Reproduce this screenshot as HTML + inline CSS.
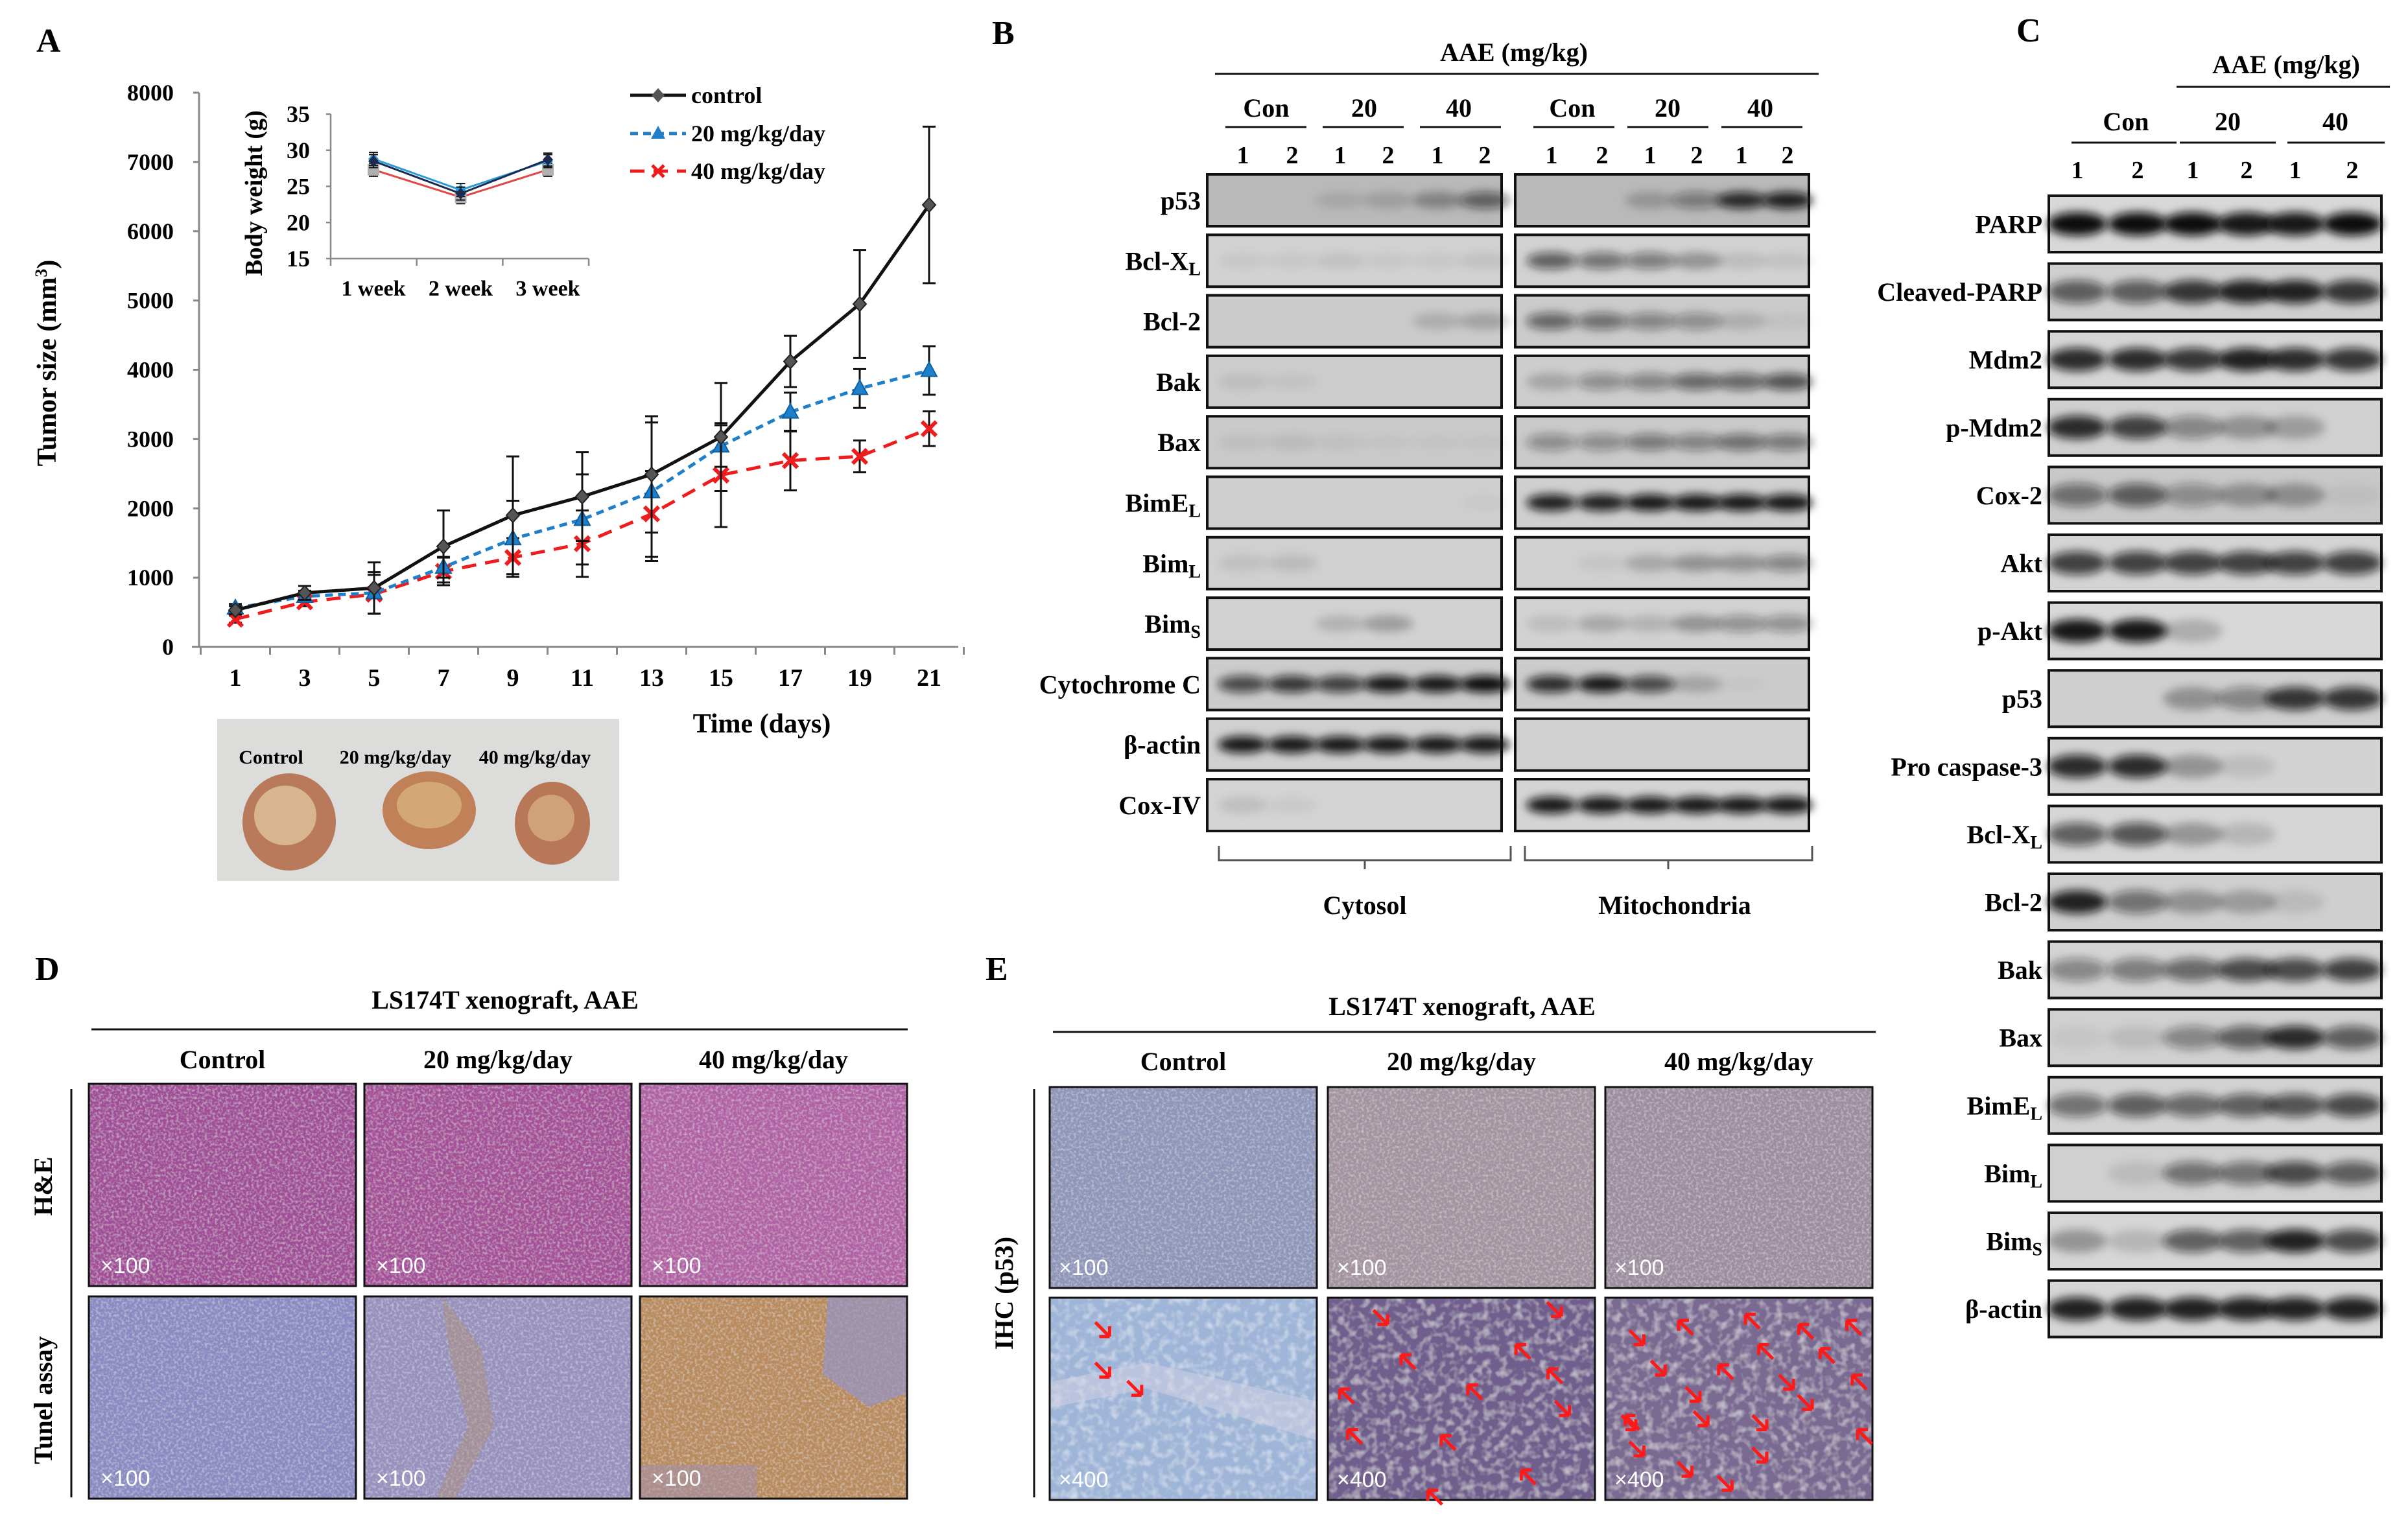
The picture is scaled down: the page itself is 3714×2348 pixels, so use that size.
<!DOCTYPE html>
<html><head><meta charset="utf-8">
<style>
html,body{margin:0;padding:0;background:#fff;}
svg{display:block;font-family:"Liberation Serif",serif;font-weight:bold;}
</style></head>
<body>
<svg id="fig" xmlns="http://www.w3.org/2000/svg" width="3714" height="2348" viewBox="0 0 3714 2348">
<defs>
  <filter id="blur" x="-50%" y="-80%" width="200%" height="260%"><feGaussianBlur stdDeviation="7"/></filter>
  <filter id="tex" x="0" y="0" width="100%" height="100%">
    <feTurbulence type="fractalNoise" baseFrequency="0.25" numOctaves="2" seed="3" result="n"/>
    <feColorMatrix in="n" type="matrix" values="0 0 0 0 1  0 0 0 0 1  0 0 0 0 1  0 0 0 0.8 -0.35" result="w"/>
    <feComposite in="w" in2="SourceGraphic" operator="in" result="wm"/>
    <feMerge><feMergeNode in="SourceGraphic"/><feMergeNode in="wm"/></feMerge>
  </filter>
  <filter id="tex2" x="0" y="0" width="100%" height="100%">
    <feTurbulence type="fractalNoise" baseFrequency="0.08" numOctaves="2" seed="7" result="n"/>
    <feColorMatrix in="n" type="matrix" values="0 0 0 0 1  0 0 0 0 1  0 0 0 0 1  0 0 0 1.0 -0.45" result="w"/>
    <feComposite in="w" in2="SourceGraphic" operator="in" result="wm"/>
    <feMerge><feMergeNode in="SourceGraphic"/><feMergeNode in="wm"/></feMerge>
  </filter>
</defs>

<text x="56" y="80" font-size="52">A</text>
<text x="1530" y="68" font-size="52">B</text>
<text x="3110" y="64" font-size="52">C</text>
<text x="54" y="1512" font-size="52">D</text>
<text x="1520" y="1512" font-size="52">E</text>

<g id="chartA"></g>
<g id="inset"></g>

<g>
  <rect x="335" y="1109" width="620" height="250" fill="#dcdcda"/>
  <text x="418" y="1178" font-size="30" text-anchor="middle">Control</text>
  <text x="610" y="1178" font-size="30" text-anchor="middle">20 mg/kg/day</text>
  <text x="825" y="1178" font-size="30" text-anchor="middle">40 mg/kg/day</text>
  <ellipse cx="446" cy="1268" rx="72" ry="75" fill="#b87a5a"/>
  <ellipse cx="440" cy="1258" rx="48" ry="46" fill="#e2c9a0" opacity="0.75"/>
  <ellipse cx="662" cy="1250" rx="72" ry="60" fill="#c08058"/>
  <ellipse cx="662" cy="1242" rx="50" ry="36" fill="#dcb886" opacity="0.7"/>
  <ellipse cx="852" cy="1270" rx="58" ry="64" fill="#b87858"/>
  <ellipse cx="850" cy="1262" rx="36" ry="36" fill="#d9b484" opacity="0.7"/>
</g>

<g id="panelB"></g>
<g id="panelC"></g>
<g id="panelD"></g>
<g id="panelE"></g>
</svg>

<script>
const days = [1,3,5,7,9,11,13,15,17,19,21];
const yTicks = [0,1000,2000,3000,4000,5000,6000,7000,8000];
const controlVals = [530,780,850,1450,1900,2170,2490,3030,4120,4950,6380];
const controlErr = [60,100,370,520,850,640,840,780,370,780,1130];
const dose20Vals = [560,730,780,1150,1560,1840,2240,2900,3390,3730,3990];
const dose20Err = [60,80,300,150,550,650,1000,300,280,280,350];
const dose40Vals = [400,650,760,1090,1290,1490,1920,2480,2690,2750,3150];
const dose40Err = [50,60,280,200,280,480,620,750,430,230,250];
const weeks = ['1 week','2 week','3 week'];
const bwTicks = [15,20,25,30,35];
const bwControl = [28.5,24.0,28.7];
const bw20 = [28.8,24.5,28.5];
const bw40 = [27.3,23.5,27.3];

const NS = 'http://www.w3.org/2000/svg';
function mk(parent, tag, attrs, text){
  const e = document.createElementNS(NS, tag);
  for (const k in attrs) e.setAttribute(k, attrs[k]);
  if (text !== undefined) e.textContent = text;
  parent.appendChild(e);
  return e;
}

const X0 = 363, DX = 53.5, Y0 = 998, YS = (998-143)/8000;
const xA = d => X0 + (d-1)*DX;
const yA = v => Y0 - v*YS;

const gA = document.getElementById('chartA');
let ax = mk(gA,'line',{x1:307,y1:143,x2:307,y2:Y0,stroke:'#888','stroke-width':3});


ax = mk(gA,'line',{x1:296,y1:Y0,x2:1478,y2:Y0,stroke:'#888','stroke-width':3});


yTicks.forEach(v=>{
  const t = mk(gA,'line',{x1:298,y1:yA(v),x2:307,y2:yA(v),stroke:'#888','stroke-width':3});
  
  
  const l = mk(gA,'text',{x:268,y:yA(v)+12,'font-size':36,'text-anchor':'end'}, String(v));
  
  
});
for (let i=0;i<=days.length;i++){
  const t = mk(gA,'line',{x1:xA(0)+i*DX*2,y1:Y0,x2:xA(0)+i*DX*2,y2:Y0+12,stroke:'#888','stroke-width':3});
  
  
}
days.forEach(d=>{
  const l = mk(gA,'text',{x:xA(d),y:1058,'font-size':38,'text-anchor':'middle'}, String(d));
  
  
});
let tt = mk(gA,'text',{x:1175,y:1130,'font-size':42,'text-anchor':'middle'},'Time (days)');


tt = mk(gA,'text',{x:0,y:0,'font-size':42,'text-anchor':'middle',transform:'translate(86,560) rotate(-90)'});


tt.innerHTML = 'Tumor size (mm<tspan baseline-shift="super" font-size="26">3</tspan>)';

function series(vals, errs, color, dash, marker, name){
  const g = mk(gA,'g',{});
  
  
  vals.forEach((v,i)=>{
    const x = xA(days[i]);
    const e = mk(g,'path',{d:`M${x},${yA(v-errs[i])}V${yA(v+errs[i])}M${x-10},${yA(v-errs[i])}h20M${x-10},${yA(v+errs[i])}h20`,stroke:'#111','stroke-width':3,fill:'none'});
    
    
  });
  const pts = vals.map((v,i)=>xA(days[i])+','+yA(v)).join(' ');
  const ln = mk(g,'polyline',{points:pts,fill:'none',stroke:color,'stroke-width':5,'stroke-dasharray':dash});
  
  
  vals.forEach((v,i)=>{
    const x = xA(days[i]), y = yA(v);
    let m;
    if (marker==='diamond') m = mk(g,'path',{d:`M${x},${y-11}L${x+10},${y}L${x},${y+11}L${x-10},${y}Z`,fill:'#555',stroke:'#222','stroke-width':2});
    else if (marker==='tri') m = mk(g,'path',{d:`M${x},${y-13}L${x+12},${y+9}L${x-12},${y+9}Z`,fill:'#1f7fc8',stroke:'#1060a0','stroke-width':2});
    else m = mk(g,'path',{d:`M${x-11},${y-11}L${x+11},${y+11}M${x+11},${y-11}L${x-11},${y+11}`,stroke:'#ee1c1c','stroke-width':6});
    
    
  });
}
series(dose40Vals, dose40Err, '#ee1c1c', '22 14', 'x', 'series-40mg');
series(dose20Vals, dose20Err, '#1f7fc8', '12 8', 'tri', 'series-20mg');
series(controlVals, controlErr, '#111', 'none', 'diamond', 'series-control');

const legendItems = [['control','#111','none','diamond',147],['20 mg/kg/day','#1f7fc8','12 8','tri',206],['40 mg/kg/day','#ee1c1c','22 14','x',264]];
legendItems.forEach(it=>{
  const g = mk(gA,'g',{});
  
  
  const y = it[4], x = 1015;
  mk(g,'line',{x1:972,y1:y,x2:1058,y2:y,stroke:it[1],'stroke-width':5,'stroke-dasharray':it[2]});
  if (it[3]==='diamond') mk(g,'path',{d:`M${x},${y-11}L${x+10},${y}L${x},${y+11}L${x-10},${y}Z`,fill:'#555'});
  else if (it[3]==='tri') mk(g,'path',{d:`M${x},${y-12}L${x+11},${y+8}L${x-11},${y+8}Z`,fill:'#1f7fc8'});
  else mk(g,'path',{d:`M${x-9},${y-9}L${x+9},${y+9}M${x+9},${y-9}L${x-9},${y+9}`,stroke:'#ee1c1c','stroke-width':5});
  mk(g,'text',{x:1066,y:y+12,'font-size':36}, it[0]);
});

const gI = document.getElementById('inset');
const ix = i => 576 + i*134.5;
const iy = v => 399 - (v-15)*(223/20);
mk(gI,'line',{x1:510,y1:iy(35),x2:510,y2:399,stroke:'#888','stroke-width':2.5});
mk(gI,'line',{x1:510,y1:399,x2:908,y2:399,stroke:'#888','stroke-width':2.5});
bwTicks.forEach(v=>{
  mk(gI,'line',{x1:503,y1:iy(v),x2:510,y2:iy(v),stroke:'#888','stroke-width':2.5});
  const l = mk(gI,'text',{x:478,y:iy(v)+12,'font-size':36,'text-anchor':'end'}, String(v));
  
  
});
for (let i=0;i<4;i++) mk(gI,'line',{x1:510+i*132.7,y1:399,x2:510+i*132.7,y2:410,stroke:'#888','stroke-width':2.5});
weeks.forEach((w,i)=>{
  const l = mk(gI,'text',{x:ix(i),y:456,'font-size':34,'text-anchor':'middle'}, w);
  
  
});
tt = mk(gI,'text',{x:0,y:0,'font-size':38,'text-anchor':'middle',transform:'translate(404,298) rotate(-90)'},'Body weight (g)');


function iseries(vals, color, mcolor, shape, name){
  const g = mk(gI,'g',{});
  
  
  mk(g,'polyline',{points:vals.map((v,i)=>ix(i)+','+iy(v)).join(' '),fill:'none',stroke:color,'stroke-width':3});
  vals.forEach((v,i)=>{
    mk(g,'path',{d:`M${ix(i)},${iy(v)-10}V${iy(v)+10}M${ix(i)-7},${iy(v)-10}h14M${ix(i)-7},${iy(v)+10}h14`,stroke:'#111','stroke-width':2});
    let m;
    if (shape==='sq') m = mk(g,'rect',{x:ix(i)-9,y:iy(v)-9,width:18,height:18,fill:mcolor});
    else m = mk(g,'path',{d:`M${ix(i)},${iy(v)-9}L${ix(i)+8},${iy(v)}L${ix(i)},${iy(v)+9}L${ix(i)-8},${iy(v)}Z`,fill:mcolor});
    
    
  });
}
iseries(bw40, '#e04848', '#b0b0b0', 'sq', 'inset-40mg');
iseries(bw20, '#2b9ad8', '#2b9ad8', 'd', 'inset-20mg');
iseries(bwControl, '#1a2a50', '#1a2a50', 'd', 'inset-control');

function band(g, cx, cy, w, h, a){
  if (a<=0.02) return;
  mk(g,'ellipse',{cx:cx,cy:cy,rx:w/2,ry:h/2,fill:'#111','fill-opacity':a,filter:'url(#blur)'});
}
function blotBox(g, x, y, w, h, bg){
  return mk(g,'rect',{x:x,y:y,width:w,height:h,fill:bg,stroke:'#111','stroke-width':4});
}
function label(g, x, y, main, sub, size){
  const t = mk(g,'text',{x:x,y:y,'font-size':size,'text-anchor':'end'});
  t.textContent = main;
  if (sub){ const s = mk(t,'tspan',{'font-size':size*0.7,dy:8}); s.textContent = sub; }
  return t;
}

const gB = document.getElementById('panelB');
const bRows = [['p53',''],['Bcl-X','L'],['Bcl-2',''],['Bak',''],['Bax',''],['BimE','L'],['Bim','L'],['Bim','S'],['Cytochrome C',''],['β-actin',''],['Cox-IV','']];
const bCyto = [[0,0,.1,.15,.3,.55],[.05,.05,.08,.05,.05,.08],[0,0,0,0,.15,.2],[.08,.05,0,0,0,0],[.06,.08,.05,.03,.03,.03],[0,0,0,0,0,.03],[.08,.1,0,0,0,0],[0,0,.15,.25,0,0],[.7,.8,.75,.95,.95,1],[.95,.95,.95,.95,.95,.95],[.1,.05,0,0,0,0]];
const bMito = [[0,0,.2,.4,.85,.9],[.6,.5,.45,.3,.1,.08],[.55,.5,.4,.35,.15,.05],[.2,.35,.4,.55,.55,.65],[.35,.35,.45,.4,.5,.45],[.9,.9,.95,.95,.95,.95],[0,.05,.2,.3,.3,.4],[.1,.2,.15,.3,.35,.35],[.85,.95,.7,.2,.03,0],[0,.02,0,0,0,0],[.95,.95,.95,.95,.95,.95]];
const bBg = ['#b9b9b9','#d2d2d2','#cbcbcb','#cdcdcd','#cacaca','#cfcfcf','#d0d0d0','#d2d2d2','#cccccc','#d0d0d0','#d4d4d4'];
const laneC = [1917,1993,2067,2141,2217,2290];
const laneM = [2393,2471,2545,2617,2686,2757];
bRows.forEach((r,i)=>{
  const y = 269 + i*93.3, h = 80;
  const g = mk(gB,'g',{});
  
  
  blotBox(g,1862,y,454,h,bBg[i]);
  blotBox(g,2337,y,453,h,bBg[i]);
  laneC.forEach((x,j)=>band(g,x,y+h/2,78,26,bCyto[i][j]));
  laneM.forEach((x,j)=>band(g,x,y+h/2,78,26,bMito[i][j]));
  label(g,1852,y+h/2+14,r[0],r[1],40);
});
mk(gB,'text',{x:2335,y:94,'font-size':40,'text-anchor':'middle'},'AAE (mg/kg)');
mk(gB,'line',{x1:1874,y1:114,x2:2805,y2:114,stroke:'#111','stroke-width':3});
[['Con',1953,1890,2015],['20',2104,2040,2165],['40',2250,2190,2315],['Con',2425,2365,2490],['20',2572,2510,2635],['40',2715,2655,2780]].forEach(h=>{
  mk(gB,'text',{x:h[1],y:180,'font-size':40,'text-anchor':'middle'},h[0]);
  mk(gB,'line',{x1:h[2],y1:196,x2:h[3],y2:196,stroke:'#111','stroke-width':3});
});
laneC.concat(laneM).forEach((x,j)=>{
  mk(gB,'text',{x:x,y:252,'font-size':38,'text-anchor':'middle'}, j%2===0?'1':'2');
});
mk(gB,'path',{d:'M1880,1305v22h450v-22M2105,1327v14',fill:'none',stroke:'#555','stroke-width':3});
mk(gB,'path',{d:'M2352,1305v22h443v-22M2573,1327v14',fill:'none',stroke:'#555','stroke-width':3});
mk(gB,'text',{x:2105,y:1410,'font-size':40,'text-anchor':'middle'},'Cytosol');
mk(gB,'text',{x:2583,y:1410,'font-size':40,'text-anchor':'middle'},'Mitochondria');

const gC = document.getElementById('panelC');
const cRows = [['PARP',''],['Cleaved-PARP',''],['Mdm2',''],['p-Mdm2',''],['Cox-2',''],['Akt',''],['p-Akt',''],['p53',''],['Pro caspase-3',''],['Bcl-X','L'],['Bcl-2',''],['Bak',''],['Bax',''],['BimE','L'],['Bim','L'],['Bim','S'],['β-actin','']];
const cVals = [[1,1,1,.95,.95,1],[.6,.6,.8,.9,.9,.8],[.85,.85,.8,.9,.85,.8],[.85,.75,.4,.3,.25,0],[.5,.6,.35,.3,.3,.05],[.75,.75,.75,.75,.75,.75],[.95,.95,.2,0,0,0],[0,0,.3,.4,.8,.8],[.85,.85,.3,.1,0,0],[.6,.65,.3,.15,0,0],[.9,.5,.3,.25,.1,0],[.4,.45,.55,.7,.7,.75],[.05,.1,.4,.6,.85,.6],[.5,.6,.55,.6,.65,.7],[0,.1,.5,.5,.7,.6],[.3,.15,.6,.6,.9,.7],[.9,.9,.9,.9,.9,.9]];
const cBg = ['#d8d8d8','#cfcfcf','#d6d6d6','#d0d0d0','#c8c8c8','#d4d4d4','#d8d8d8','#cfcfcf','#d3d3d3','#d6d6d6','#cfcfcf','#d4d4d4','#d0d0d0','#d2d2d2','#d0d0d0','#d6d6d6','#d6d6d6'];
const laneCC = [3204,3297,3382,3465,3540,3628];
cRows.forEach((r,i)=>{
  const y = 302 + i*104.6, h = 87;
  const g = mk(gC,'g',{});
  
  
  blotBox(g,3160,y,513,h,cBg[i]);
  laneCC.forEach((x,j)=>band(g,x,y+h/2,92,36,cVals[i][j]));
  label(g,3150,y+h/2+14,r[0],r[1],40);
});
mk(gC,'text',{x:3526,y:113,'font-size':40,'text-anchor':'middle'},'AAE (mg/kg)');
mk(gC,'line',{x1:3357,y1:134,x2:3686,y2:134,stroke:'#111','stroke-width':3});
[['Con',3279,3195,3357],['20',3436,3362,3510],['40',3602,3528,3678]].forEach(h=>{
  mk(gC,'text',{x:h[1],y:201,'font-size':40,'text-anchor':'middle'},h[0]);
  mk(gC,'line',{x1:h[2],y1:220,x2:h[3],y2:220,stroke:'#111','stroke-width':3});
});
laneCC.forEach((x,j)=>mk(gC,'text',{x:x,y:275,'font-size':38,'text-anchor':'middle'}, j%2===0?'1':'2'));

const gD = document.getElementById('panelD');
mk(gD,'text',{x:779,y:1556,'font-size':40,'text-anchor':'middle'},'LS174T xenograft, AAE');
mk(gD,'line',{x1:141,y1:1588,x2:1400,y2:1588,stroke:'#111','stroke-width':3});
const dCols = [137,562,987], dW = 412;
const dHeads = ['Control','20 mg/kg/day','40 mg/kg/day'];
dHeads.forEach((h,i)=>mk(gD,'text',{x:dCols[i]+dW/2,y:1648,'font-size':40,'text-anchor':'middle'},h));
mk(gD,'line',{x1:110,y1:1680,x2:110,y2:2310,stroke:'#111','stroke-width':3});
mk(gD,'text',{x:0,y:0,'font-size':40,'text-anchor':'middle',transform:'translate(80,1830) rotate(-90)'},'H&E');
mk(gD,'text',{x:0,y:0,'font-size':40,'text-anchor':'middle',transform:'translate(80,2160) rotate(-90)'},'Tunel assay');
const dColors = [['#a04e98','#a45098','#b060a4'],['#8a8ac2','#9690bc','#b88a5c']];
const dRowY = [1672,2000], dH = 312;
dRowY.forEach((y,ri)=>dCols.forEach((x,ci)=>{
  const g = mk(gD,'g',{});
  
  
  mk(g,'rect',{x:x,y:y,width:dW,height:dH,fill:dColors[ri][ci],filter:'url(#tex)'});
  if (ri===1 && ci===2){
    mk(g,'path',{d:`M${x+290},${y}h122v150l-60,20l-70,-50z`,fill:'#9494c4',opacity:0.7});
    mk(g,'path',{d:`M${x},${y+260}h180v52h-180z`,fill:'#a090b4',opacity:0.5});
  }
  if (ri===1 && ci===1){
    mk(g,'path',{d:`M${x+120},${y}l60,80l20,120l-60,112h-30l50,-112l-30,-120z`,fill:'#b2906c',opacity:0.4});
  }
  mk(g,'rect',{x:x,y:y,width:dW,height:dH,fill:'none',stroke:'#111','stroke-width':3});
  mk(g,'text',{x:x+18,y:y+dH-20,'font-size':34,fill:'#fff','font-weight':'normal','font-family':'Liberation Sans, sans-serif'},'×100');
}));

const gE = document.getElementById('panelE');
mk(gE,'text',{x:2255,y:1566,'font-size':40,'text-anchor':'middle'},'LS174T xenograft, AAE');
mk(gE,'line',{x1:1624,y1:1592,x2:2893,y2:1592,stroke:'#111','stroke-width':3});
const eCols = [1619,2048,2476], eW = 412;
dHeads.forEach((h,i)=>mk(gE,'text',{x:eCols[i]+eW/2,y:1651,'font-size':40,'text-anchor':'middle'},h));
mk(gE,'line',{x1:1595,y1:1680,x2:1595,y2:2310,stroke:'#111','stroke-width':3});
mk(gE,'text',{x:0,y:0,'font-size':40,'text-anchor':'middle',transform:'translate(1562,1995) rotate(-90)'},'IHC (p53)');
const eColors = [['#8e95b8','#a3939f','#9b8d9e'],['#9fb5d8','#6f5f8c','#7a6a92']];
const eRowY = [1677,2002], eH = [310,312];
const arrows = [
  [],
  [[0.2,0.1,-1],[0.85,0.06,-1],[0.68,0.2,1],[0.25,0.25,1],[0.8,0.32,1],[0.5,0.4,1],[0.02,0.42,1],[0.88,0.55,-1],[0.05,0.62,1],[0.4,0.65,1],[0.7,0.82,1],[0.35,0.92,1]],
  [[0.25,0.08,1],[0.5,0.05,1],[0.7,0.1,1],[0.88,0.08,1],[0.12,0.2,-1],[0.55,0.2,1],[0.78,0.22,1],[0.4,0.3,1],[0.2,0.35,-1],[0.9,0.35,1],[0.68,0.42,-1],[0.33,0.48,-1],[0.75,0.52,-1],[0.05,0.55,1],[0.36,0.6,-1],[0.58,0.62,-1],[0.92,0.62,1],[0.09,0.62,-1],[0.12,0.75,-1],[0.58,0.78,-1],[0.3,0.85,-1],[0.45,0.92,-1]]
];
const ctrlArrows = [[0.2,0.16,-1],[0.2,0.36,-1],[0.32,0.45,-1]];
eRowY.forEach((y,ri)=>eCols.forEach((x,ci)=>{
  const g = mk(gE,'g',{});
  
  
  mk(g,'rect',{x:x,y:y,width:eW,height:eH[ri],fill:eColors[ri][ci],filter:ri===0?'url(#tex)':'url(#tex2)'});
  if (ri===1 && ci===0) mk(g,'path',{d:`M${x},${y+170}l150,-30l262,80v-60l-262,-60l-150,30z`,fill:'#d8d4e4',opacity:0.5});
  mk(g,'rect',{x:x,y:y,width:eW,height:eH[ri],fill:'none',stroke:'#111','stroke-width':3});
  if (ri===1){
    const list = ci===0 ? ctrlArrows : arrows[ci];
    list.forEach(a=>{
      const ax0 = x + a[0]*eW + 10, ay0 = y + a[1]*eH[ri] + 10;
      const s = a[2];
      const ar = mk(g,'path',{d:`M${ax0},${ay0}l${22*s},${22*s}M${ax0},${ay0}h${16*s}M${ax0},${ay0}v${16*s}`,stroke:'#ff1a1a','stroke-width':5,fill:'none'});
      
      
    });
  }
  mk(g,'text',{x:x+14,y:y+eH[ri]-20,'font-size':34,fill:'#fff','font-weight':'normal','font-family':'Liberation Sans, sans-serif'}, ri===0?'×100':'×400');
}));
</script>
</body></html>
